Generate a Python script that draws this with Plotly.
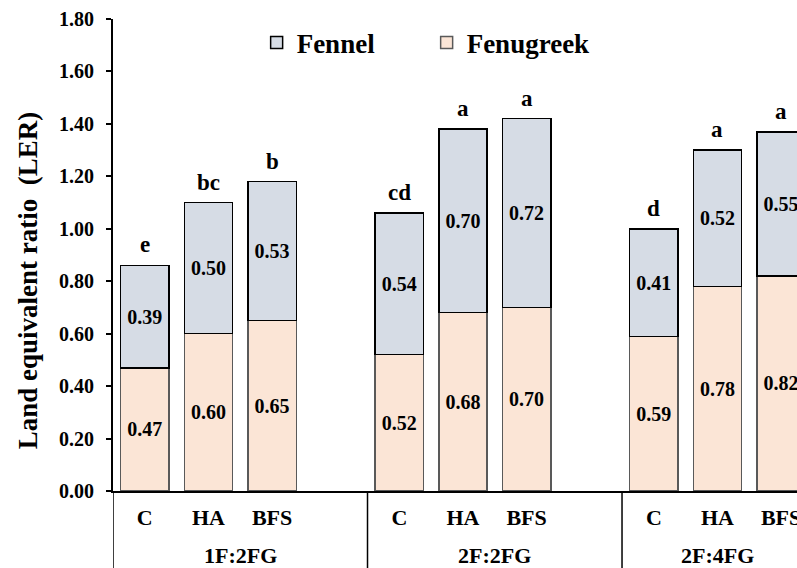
import plotly.graph_objects as go

groups = ["1F:2FG", "2F:2FG", "2F:4FG"]
treatments = ["C", "HA", "BFS"]
fenugreek = [0.47, 0.60, 0.65, 0.52, 0.68, 0.70, 0.59, 0.78, 0.82]
fennel = [0.39, 0.50, 0.53, 0.54, 0.70, 0.72, 0.41, 0.52, 0.55]
letters = ["e", "bc", "b", "cd", "a", "a", "d", "a", "a"]
y_ticks = [0.0, 0.2, 0.4, 0.6, 0.8, 1.0, 1.2, 1.4, 1.6, 1.8]

FONT = "Liberation Serif"
slot = len(treatments) + 1  # one blank slot between groups

xs, xlabels = [], []
for gi, g in enumerate(groups):
    for ti, t in enumerate(treatments):
        xs.append(gi * slot + ti)
        xlabels.append(t)

totals = [a + b for a, b in zip(fenugreek, fennel)]

fig = go.Figure()
fig.add_trace(go.Bar(
    x=xs, y=fenugreek, name="<b>Fenugreek</b>", width=0.76,
    marker=dict(color="#FBE5D6", line=dict(color="#595959", width=1.5)),
    text=[f"<b>{v:.2f}</b>" for v in fenugreek], textposition="inside",
    insidetextanchor="middle", textangle=0, constraintext="none",
    textfont=dict(family=FONT, size=20, color="black"),
    hoverinfo="skip",
))
fig.add_trace(go.Bar(
    x=xs, y=fennel, name="<b>Fennel</b>", width=0.76,
    marker=dict(color="#D6DCE5", line=dict(color="black", width=1.5)),
    text=[f"<b>{v:.2f}</b>" for v in fennel], textposition="inside",
    insidetextanchor="middle", textangle=0, constraintext="none",
    textfont=dict(family=FONT, size=20, color="black"),
    hoverinfo="skip",
))

# significance letters
for x, tot, L in zip(xs, totals, letters):
    fig.add_annotation(x=x, y=tot, text=f"<b>{L}</b>", showarrow=False,
                       yanchor="bottom", yshift=6,
                       font=dict(family=FONT, size=23, color="black"))

x_max = 10.25
bottom_frac = 77 / 472
# group separators and labels
seps = [-0.5] + [gi * slot - 0.5 for gi in range(1, len(groups))]
ends = seps[1:] + [len(groups) * slot - 1.5]
for s in seps:
    fig.add_shape(type="line", xref="x", yref="paper", x0=s, x1=s,
                  y0=0, y1=-bottom_frac, line=dict(color="black", width=1.5))
for gi, g in enumerate(groups):
    cx = (seps[gi] + ends[gi]) / 2
    fig.add_annotation(x=cx, xref="x", y=-0.137, yref="paper",
                       text=f"<b>{g}</b>", showarrow=False, yanchor="middle",
                       font=dict(family=FONT, size=22, color="black"))

# y-axis title
fig.add_annotation(x=-0.124, xref="paper", y=0.447, yref="paper",
                   text="<b>Land equivalent ratio  (LER)</b>", textangle=-90,
                   showarrow=False, xanchor="center", yanchor="middle",
                   font=dict(family=FONT, size=27, color="black"))

fig.update_layout(
    width=797, height=568,
    margin=dict(l=113, r=0, t=19, b=77, autoexpand=False),
    barmode="stack",
    plot_bgcolor="white", paper_bgcolor="white",
    font=dict(family=FONT, color="black"),
    showlegend=True,
    legend=dict(orientation="h", x=0.21, xanchor="left", y=0.949, yanchor="middle",
                traceorder="reversed", entrywidth=125, entrywidthmode="pixels",
                font=dict(family=FONT, size=27, color="black"),
                bgcolor="rgba(0,0,0,0)", itemclick=False),
    xaxis=dict(range=[-0.5, x_max], tickmode="array", tickvals=xs,
               ticktext=[f"<b>{t}</b>" for t in xlabels], automargin=False,
               showline=True, linecolor="black", linewidth=2, ticks="",
               showgrid=False, zeroline=False, ticklabelstandoff=6,
               ticklabeloverflow="allow",
               tickfont=dict(family=FONT, size=22, color="black")),
    yaxis=dict(range=[0, 1.8], tickmode="array", tickvals=y_ticks,
               ticktext=[f"<b>{v:.2f}</b>" for v in y_ticks], automargin=False,
               showline=True, linecolor="black", linewidth=2,
               ticks="outside", ticklen=5, tickwidth=1.5, tickcolor="black",
               showgrid=False, zeroline=False, ticklabelstandoff=8,
               tickfont=dict(family=FONT, size=20, color="black")),
)

fig.write_html("out.html", config={"displayModeBar": False},
               post_script="document.body.style.margin='0';document.body.style.padding='0';")
